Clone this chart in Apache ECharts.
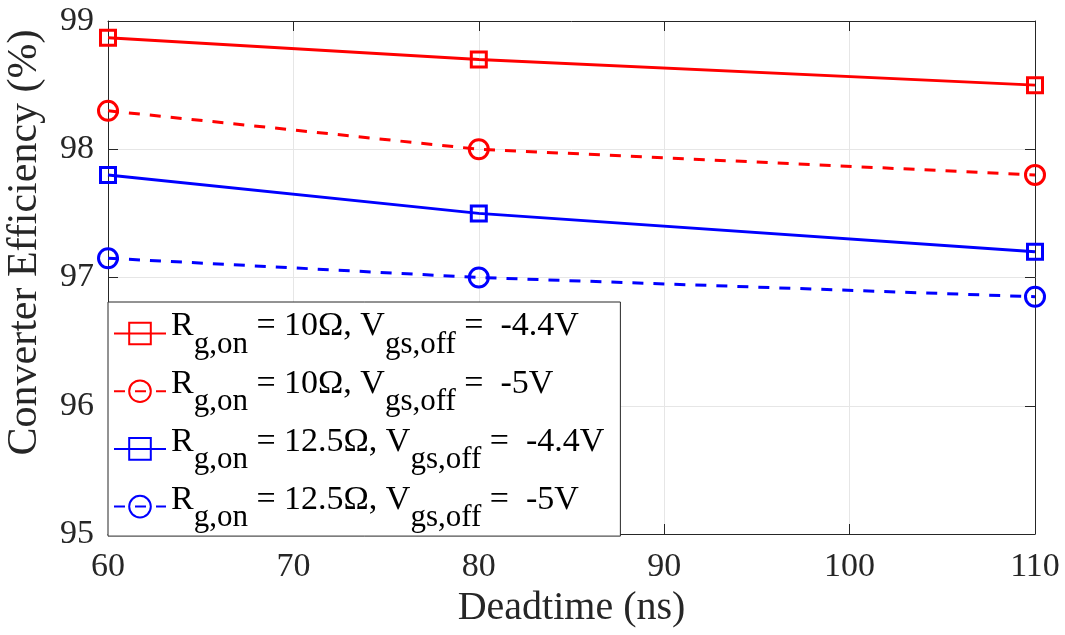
<!DOCTYPE html>
<html>
<head>
<meta charset="utf-8">
<script src="https://cdn.jsdelivr.net/npm/echarts@6/dist/echarts.min.js"></script>
<style>
html,body{margin:0;padding:0;background:#fff;}
#chart{width:1065px;height:635px;}
</style>
</head>
<body>
<div id="chart"></div>
<script>
// ---- data ----
const deadtime = [60, 80, 110];
const eff_10_44 = [98.87, 98.70, 98.50];
const eff_10_5 = [98.30, 98.00, 97.80];
const eff_125_44 = [97.80, 97.50, 97.20];
const eff_125_5 = [97.15, 97.00, 96.85];
const rgOn = ['10Ω', '10Ω', '12.5Ω', '12.5Ω'];
const vgsOff = ['-4.4V', '-5V', '-4.4V', '-5V'];
const xTicks = [60, 70, 80, 90, 100, 110];
const yTicks = [95, 96, 97, 98, 99];

const FONT = '"Liberation Serif", "Times New Roman", serif';
const names = rgOn.map((r, i) => 'Rg,on = ' + r + ', Vgs,off =  ' + vgsOff[i]);
const pair = arr => deadtime.map((x, i) => [x, arr[i]]);

const styles = [
  {color: '#ff0000', dash: 'solid', sym: 'rect', size: 15},
  {color: '#ff0000', dash: [11, 10], sym: 'circle', size: 19},
  {color: '#0000ff', dash: 'solid', sym: 'rect', size: 15},
  {color: '#0000ff', dash: [11, 10], sym: 'circle', size: 19}
];
const allData = [eff_10_44, eff_10_5, eff_125_44, eff_125_5];

const series = allData.map((d, i) => ({
  name: names[i],
  type: 'line',
  data: pair(d),
  symbol: styles[i].sym,
  symbolSize: styles[i].size,
  showAllSymbol: true,
  clip: false,
  lineStyle: {color: styles[i].color, width: 3, type: styles[i].dash},
  itemStyle: {color: 'rgba(255,255,255,0)', borderColor: styles[i].color, borderWidth: 3},
  emphasis: {disabled: true},
  z: 3
}));

const axisColor = '#262626';
const chart = echarts.init(document.getElementById('chart'), null, {renderer: 'canvas'});
chart.setOption({
  animation: false,
  backgroundColor: '#ffffff',
  grid: {left: 108, right: 30, top: 21, bottom: 101, containLabel: false, outerBoundsMode: 'none'},
  legend: {
    orient: 'vertical',
    left: 108,
    top: 302,
    padding: [5, 16, 3, 5],
    itemGap: 4.7,
    itemWidth: 52,
    itemHeight: 27,
    backgroundColor: '#ffffff',
    borderColor: axisColor,
    borderWidth: 1,
    selectedMode: false,
    z: 10,
    data: names,
    formatter: function (name) {
      const i = names.indexOf(name);
      return '{m|R}{s|g,on}{m| = ' + rgOn[i] + ', V}{s|gs,off}{m| =  ' + vgsOff[i] + '}';
    },
    textStyle: {
      fontFamily: FONT,
      color: '#000',
      rich: {
        m: {fontFamily: FONT, fontSize: 34, color: '#000', lineHeight: 40, padding: [0, 0, 14, 0]},
        s: {fontFamily: FONT, fontSize: 31, color: '#000', lineHeight: 40, padding: [22, 0, 0, 0]}
      }
    }
  },
  xAxis: [{
    type: 'value',
    min: 60, max: 110, interval: 10,
    name: 'Deadtime (ns)',
    nameLocation: 'middle',
    nameGap: 52,
    nameTextStyle: {fontFamily: FONT, fontSize: 40, color: axisColor},
    axisLine: {show: true, lineStyle: {color: axisColor, width: 1}},
    axisTick: {show: true, inside: true, length: 10, lineStyle: {color: axisColor}},
    axisLabel: {fontFamily: FONT, fontSize: 34, color: axisColor, margin: 16,
      formatter: v => xTicks.includes(v) ? String(v) : ''},
    splitLine: {show: true, lineStyle: {color: '#e6e6e6', width: 1}}
  }, {
    type: 'value', position: 'top',
    min: 60, max: 110, interval: 10,
    axisLine: {show: true, onZero: false, lineStyle: {color: axisColor, width: 1}},
    axisTick: {show: true, inside: true, length: 10, lineStyle: {color: axisColor}},
    axisLabel: {show: false},
    splitLine: {show: false}
  }],
  yAxis: [{
    type: 'value',
    min: 95, max: 99, interval: 1,
    name: 'Converter Efficiency (%)',
    nameLocation: 'middle',
    nameGap: 62,
    nameRotate: 90,
    nameTextStyle: {fontFamily: FONT, fontSize: 42, color: axisColor, padding: [0, 0, 0, 70]},
    axisLine: {show: true, lineStyle: {color: axisColor, width: 1}},
    axisTick: {show: true, inside: true, length: 10, lineStyle: {color: axisColor}},
    axisLabel: {fontFamily: FONT, fontSize: 34, color: axisColor, margin: 14,
      formatter: v => yTicks.includes(v) ? String(v) : ''},
    splitLine: {show: true, lineStyle: {color: '#e6e6e6', width: 1}}
  }, {
    type: 'value', position: 'right',
    min: 95, max: 99, interval: 1,
    axisLine: {show: true, onZero: false, lineStyle: {color: axisColor, width: 1}},
    axisTick: {show: true, inside: true, length: 10, lineStyle: {color: axisColor}},
    axisLabel: {show: false},
    splitLine: {show: false}
  }],
  series: series
});
</script>
</body>
</html>
